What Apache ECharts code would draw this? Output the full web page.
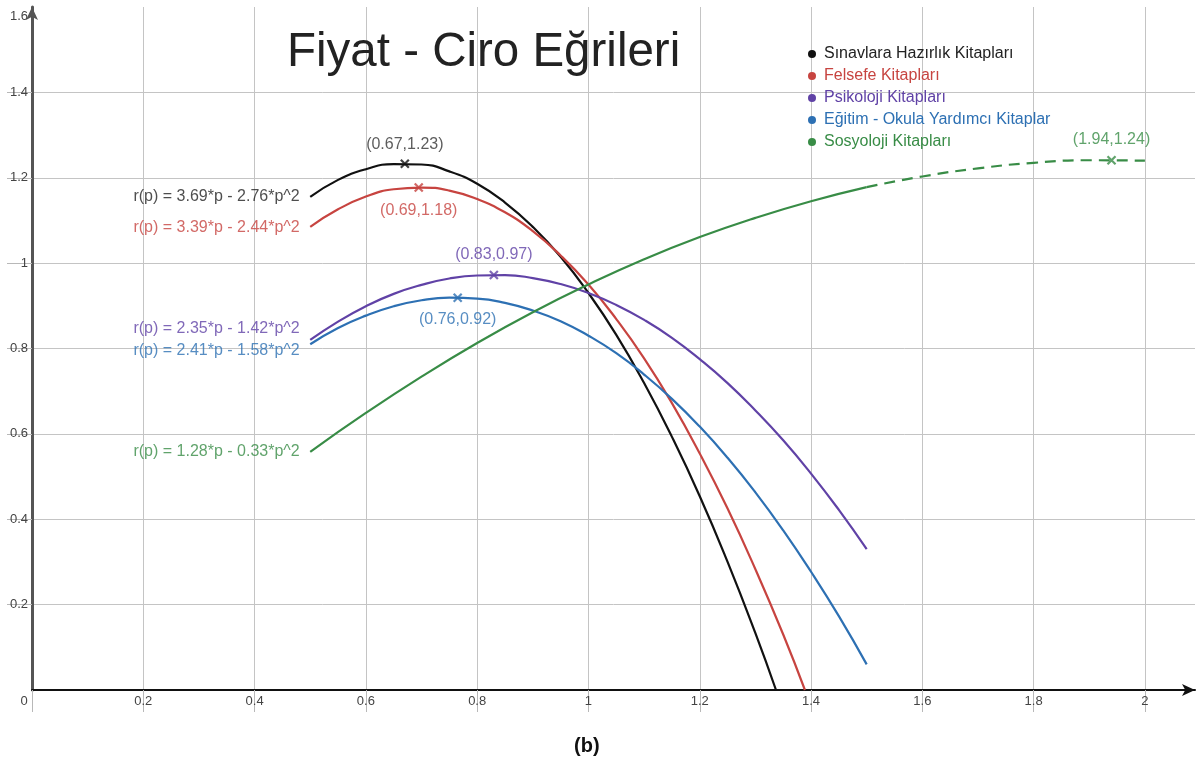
<!DOCTYPE html>
<html>
<head>
<meta charset="utf-8">
<title>Fiyat - Ciro Eğrileri</title>
<script src="https://cdn.jsdelivr.net/npm/echarts@6/dist/echarts.min.js"></script>
<style>
  html, body { margin: 0; padding: 0; background: #fff; }
  #chart { width: 1200px; height: 760px; }
</style>
</head>
<body>
<div id="chart"></div>
<script>
// isimler ve renkler
const seriesNames = ['Sınavlara Hazırlık Kitapları', 'Felsefe Kitapları', 'Psikoloji Kitapları', 'Eğitim - Okula Yardımcı Kitaplar', 'Sosyoloji Kitapları']
const seriesColors = ['#111111', '#c74440', '#6042a6', '#2d70b3', '#388c46']
const equations = ['r(p) = 3.69*p - 2.76*p^2', 'r(p) = 3.39*p - 2.44*p^2', 'r(p) = 2.35*p - 1.42*p^2', 'r(p) = 2.41*p - 1.58*p^2', 'r(p) = 1.28*p - 0.33*p^2']

// eğri noktaları
const blackP = [0.5, 0.55, 0.6, 0.65, 0.7, 0.75, 0.8, 0.85, 0.9, 0.95, 1.0, 1.05, 1.1, 1.15, 1.2, 1.25, 1.3, 1.337]
const blackR = [1.155, 1.195, 1.220, 1.232, 1.231, 1.215, 1.186, 1.142, 1.085, 1.015, 0.930, 0.832, 0.719, 0.593, 0.454, 0.300, 0.133, 0]

const redP = [0.5, 0.55, 0.6, 0.65, 0.7, 0.75, 0.8, 0.85, 0.9, 0.95, 1.0, 1.05, 1.1, 1.15, 1.2, 1.25, 1.3, 1.35, 1.389]
const redR = [1.085, 1.126, 1.156, 1.173, 1.177, 1.170, 1.150, 1.119, 1.075, 1.018, 0.950, 0.869, 0.777, 0.672, 0.554, 0.425, 0.283, 0.130, 0]

const purpleP = [0.5, 0.55, 0.6, 0.65, 0.7, 0.75, 0.8, 0.85, 0.9, 0.95, 1.0, 1.05, 1.1, 1.15, 1.2, 1.25, 1.3, 1.35, 1.4, 1.45, 1.5]
const purpleR = [0.820, 0.863, 0.899, 0.928, 0.949, 0.964, 0.971, 0.972, 0.965, 0.951, 0.930, 0.902, 0.867, 0.825, 0.775, 0.719, 0.655, 0.585, 0.507, 0.422, 0.330]

const blueP = [0.5, 0.55, 0.6, 0.65, 0.7, 0.75, 0.8, 0.85, 0.9, 0.95, 1.0, 1.05, 1.1, 1.15, 1.2, 1.25, 1.3, 1.35, 1.4, 1.45, 1.5]
const blueR = [0.810, 0.848, 0.877, 0.899, 0.913, 0.919, 0.917, 0.907, 0.889, 0.864, 0.830, 0.789, 0.739, 0.682, 0.617, 0.544, 0.463, 0.374, 0.277, 0.173, 0.060]

const greenP = [0.5, 0.6, 0.7, 0.8, 0.9, 1.0, 1.1, 1.2, 1.3, 1.4, 1.5]
const greenR = [0.558, 0.649, 0.734, 0.813, 0.885, 0.950, 1.009, 1.061, 1.106, 1.145, 1.178]
const greenDashP = [1.5, 1.6, 1.7, 1.8, 1.9, 2.0]
const greenDashR = [1.178, 1.203, 1.222, 1.235, 1.241, 1.240]

// tepe noktaları
const vertexP = [0.67, 0.695, 0.83, 0.765, 1.94]
const vertexR = [1.233, 1.177, 0.972, 0.919, 1.241]
const vertexLabels = ['(0.67,1.23)', '(0.69,1.18)', '(0.83,0.97)', '(0.76,0.92)', '(1.94,1.24)']

// eksen etiketleri
const xTicks = [0, 0.2, 0.4, 0.6, 0.8, 1, 1.2, 1.4, 1.6, 1.8, 2]
const yTicks = [0.2, 0.4, 0.6, 0.8, 1, 1.2, 1.4]
const yLabels = [0.2, 0.4, 0.6, 0.8, 1, 1.2, 1.4, 1.6]

const FONT = '"Liberation Sans", Arial, sans-serif'
const zip = (xs, ys) => xs.map((x, i) => [x, ys[i]])

const curves = [zip(blackP, blackR), zip(redP, redR), zip(purpleP, purpleR), zip(blueP, blueR), zip(greenP, greenR)]

// etiket yerleri
const eqOffsets = [[0, 0], [0, 1], [0, -11], [0, 6], [0, 0]]
const vertexPos = [['top', 6], ['bottom', 10], ['top', 7], ['bottom', 9], ['top', 8]]

const chart = echarts.init(document.getElementById('chart'))

const lineSeries = curves.map((data, i) => ({
  name: seriesNames[i],
  type: 'line',
  data: data,
  smooth: true,
  showSymbol: false,
  color: seriesColors[i],
  lineStyle: { width: 2.2, color: seriesColors[i] },
  silent: true,
  z: 3
}))

const option = {
  animation: false,
  textStyle: { fontFamily: FONT },
  title: [
    {
      text: 'Fiyat - Ciro Eğrileri',
      left: 282,
      top: 24,
      textStyle: { fontFamily: FONT, fontSize: 47.5, fontWeight: 'normal', color: '#222' }
    },
    {
      text: '(b)',
      left: 569,
      top: 731,
      textStyle: { fontFamily: FONT, fontSize: 20, fontWeight: 'bold', color: '#111' }
    }
  ],
  legend: {
    orient: 'vertical',
    left: 803,
    top: 41,
    icon: 'circle',
    itemWidth: 14,
    itemHeight: 8,
    itemGap: 6,
    textStyle: { fontFamily: FONT, fontSize: 16, lineHeight: 16 },
    data: seriesNames.map((n, i) => ({ name: n, textStyle: { color: i === 0 ? '#222' : seriesColors[i] } }))
  },
  grid: {
    left: 32,
    right: 5,
    top: 7,
    bottom: 70,
    containLabel: false,
    outerBoundsMode: 'none'
  },
  xAxis: {
    type: 'value',
    min: 0,
    max: 2.09,
    interval: 0.2,
    axisLine: {
      onZero: true,
      symbol: ['none', 'arrow'],
      symbolSize: [9, 13],
      lineStyle: { color: '#111', width: 2 }
    },
    axisTick: {
      show: true,
      inside: false,
      length: 22,
      customValues: xTicks,
      lineStyle: { color: '#b8b8b8', width: 1 }
    },
    axisLabel: {
      customValues: xTicks,
      margin: 5,
      fontSize: 13,
      color: '#444',
      fontFamily: FONT,
      formatter: v => (v === 0 ? '{o|0}' : String(v)),
      rich: { o: { padding: [0, 16, 0, 0], fontSize: 13, color: '#444', fontFamily: FONT } }
    },
    splitLine: {
      show: true,
      lineStyle: { color: '#c4c4c4', width: 1 }
    }
  },
  yAxis: {
    type: 'value',
    min: 0,
    max: 1.6,
    interval: 0.2,
    axisLine: {
      show: true,
      onZero: true,
      symbol: ['none', 'arrow'],
      symbolSize: [9, 13],
      lineStyle: { color: '#555', width: 3 }
    },
    axisTick: {
      show: true,
      inside: false,
      length: 25,
      customValues: yTicks,
      lineStyle: { color: '#b8b8b8', width: 1 }
    },
    axisLabel: {
      customValues: yLabels,
      margin: 4,
      fontSize: 13,
      color: '#444',
      fontFamily: FONT,
      formatter: v => (v === 1.6 ? '{t|1.6}' : String(v)),
      rich: { t: { padding: [18, 0, 0, 0], fontSize: 13, color: '#444', fontFamily: FONT } }
    },
    splitLine: {
      show: true,
      lineStyle: { color: '#c4c4c4', width: 1 }
    }
  },
  series: [
    ...lineSeries,
    {
      name: seriesNames[4],
      type: 'line',
      data: zip(greenDashP, greenDashR),
      smooth: true,
      showSymbol: false,
      color: seriesColors[4],
      lineStyle: { width: 2.2, color: seriesColors[4], type: [11, 7] },
      silent: true,
      z: 3
    },
    // denklem yazıları, eğrilerin başında
    {
      name: 'denklemler',
      type: 'scatter',
      symbolSize: 1,
      silent: true,
      itemStyle: { color: 'rgba(0,0,0,0)' },
      data: curves.map((c, i) => ({
        value: c[0],
        label: {
          show: true,
          position: 'left',
          distance: 10,
          offset: eqOffsets[i],
          formatter: equations[i],
          fontSize: 16,
          fontFamily: FONT,
          color: i === 0 ? '#222' : seriesColors[i]
        }
      })),
      z: 4
    },
    // tepe noktaları
    {
      name: 'tepeler',
      type: 'scatter',
      symbol: 'path://M0,0L10,10M10,0L0,10',
      symbolSize: 8,
      silent: true,
      data: vertexP.map((p, i) => ({
        value: [p, vertexR[i]],
        itemStyle: { color: 'rgba(0,0,0,0)', borderColor: seriesColors[i], borderWidth: 2.2 },
        label: {
          show: true,
          position: vertexPos[i][0],
          distance: vertexPos[i][1],
          formatter: vertexLabels[i],
          fontSize: 16,
          fontFamily: FONT,
          color: i === 0 ? '#333' : seriesColors[i]
        }
      })),
      z: 5
    }
  ]
}

chart.setOption(option)
</script>
</body>
</html>
